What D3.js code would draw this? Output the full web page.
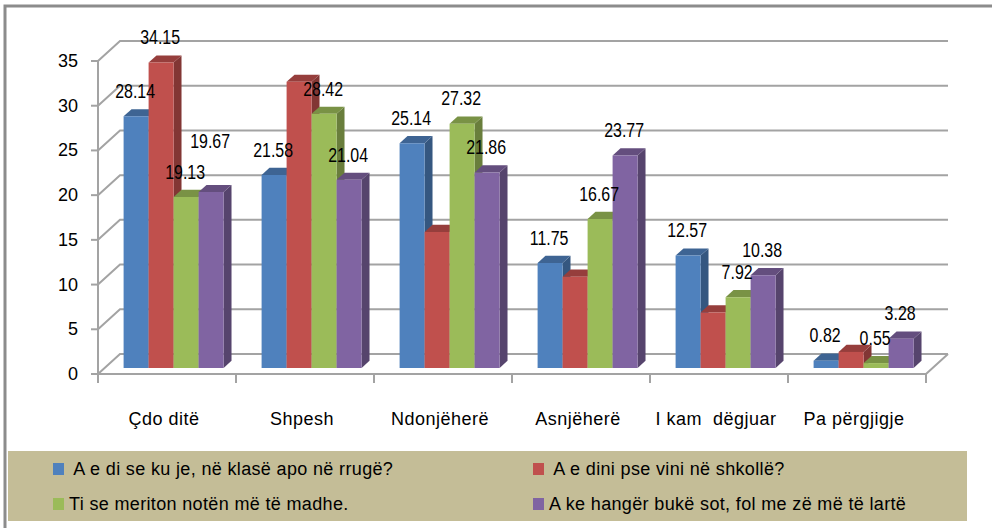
<!DOCTYPE html>
<html>
<head>
<meta charset="utf-8">
<script src="https://cdn.jsdelivr.net/npm/d3@7/dist/d3.min.js"></script>
<style>
body { margin: 0; background: #fff; }
text { font-family: "Liberation Sans", Arial, sans-serif; white-space: pre; }
</style>
</head>
<body>
<script>
var categories = ["Çdo ditë", "Shpesh", "Ndonjëherë", "Asnjëherë", "I kam  dëgjuar", "Pa përgjigje"];
var seriesNames = [
    " A e di se ku je, në klasë apo në rrugë?",
    " A e dini pse vini në shkollë?",
    "Ti se meriton notën më të madhe.",
    "A ke hangër bukë sot, fol me zë më të lartë"
];
var blueValues = [28.14, 21.58, 25.14, 11.75, 12.57, 0.82];
var redValues = [34.15, 32.0, 15.2, 10.2, 6.2, 1.8];
var greenValues = [19.13, 28.42, 27.32, 16.67, 7.92, 0.55];
var purpleValues = [19.67, 21.04, 21.86, 23.77, 10.38, 3.28];
// only these red values carry a label in the original
var redLabelled = [true, false, false, false, false, false];
var yTicks = [0, 5, 10, 15, 20, 25, 30, 35];

var colors = ["#4f81bd", "#c0504d", "#9bbb59", "#8064a2"];
var allValues = [blueValues, redValues, greenValues, purpleValues];

var width = 992, height = 528;
var DX = 22, DY = 20;          // depth offset of the back wall
var zFront = 0.3, zBack = 0.66; // depth of the bars

var svg = d3.select("body").append("svg")
    .attr("width", width)
    .attr("height", height);

var x0 = d3.scaleBand().domain(categories).range([98, 926]);
var x1 = d3.scaleBand().domain(d3.range(4)).range([0, x0.bandwidth()]).paddingOuter(0.76);
var y = d3.scaleLinear().domain([0, 35]).range([374, 61]);

function proj(x, v, z) {
    return [x + z * DX, y(v) - z * DY];
}

// outer frame
svg.append("path")
    .attr("d", "M5," + height + " L5,6 L" + width + ",6")
    .attr("fill", "none")
    .attr("stroke", "#8c8c8c")
    .attr("stroke-width", 3);

// grid on the back wall, with diagonals on the side wall
var grid = svg.append("g").attr("stroke", "#a3a3a3").attr("stroke-width", 2).attr("fill", "none");
grid.selectAll(".gl")
    .data(yTicks)
    .enter()
    .append("path")
    .attr("d", function (d) {
        var a = proj(98, d, 0), b = proj(98, d, 1), c = proj(926, d, 1);
        return "M" + a + "L" + b + "L" + c;
    });

// floor edges
grid.append("path")
    .attr("d", "M" + proj(98, 0, 0) + "L" + proj(926, 0, 0) + "L" + proj(926, 0, 1));
grid.append("line")
    .attr("x1", 98).attr("x2", 98)
    .attr("y1", y(35)).attr("y2", y(0));

// y ticks
grid.selectAll(".yt")
    .data(yTicks)
    .enter()
    .append("line")
    .attr("x1", 91).attr("x2", 98)
    .attr("y1", function (d) { return y(d); })
    .attr("y2", function (d) { return y(d); });

// category ticks
var catEdges = categories.map(function (c) { return x0(c); }).concat([926]);
grid.selectAll(".xt")
    .data(catEdges)
    .enter()
    .append("line")
    .attr("x1", function (d) { return d; })
    .attr("x2", function (d) { return d; })
    .attr("y1", y(0)).attr("y2", y(0) + 9);

svg.selectAll(".ylab")
    .data(yTicks)
    .enter()
    .append("text")
    .attr("x", 78)
    .attr("y", function (d) { return y(d) + 6; })
    .attr("text-anchor", "end")
    .attr("font-size", "18px")
    .attr("fill", "#000")
    .text(function (d) { return d; });

svg.selectAll(".xlab")
    .data(categories)
    .enter()
    .append("text")
    .attr("x", function (d) { return x0(d) + x0.bandwidth() / 2 - 3; })
    .attr("y", 425)
    .attr("text-anchor", "middle")
    .attr("font-size", "18px")
    .attr("letter-spacing", "0.5px")
    .attr("fill", "#000")
    .text(function (d) { return d; });

// bars, drawn left to right so each front face hides the neighbour's side
var bars = [];
categories.forEach(function (c, i) {
    allValues.forEach(function (vals, j) {
        bars.push({ cat: c, s: j, v: vals[i], i: i });
    });
});

var barG = svg.selectAll(".bar")
    .data(bars)
    .enter()
    .append("g");

function poly(pts) { return "M" + pts.join("L") + "Z"; }

barG.append("path")
    .attr("d", function (d) {
        var xa = x0(d.cat) + x1(d.s), xb = xa + x1.bandwidth();
        return poly([proj(xb, 0, zFront), proj(xb, d.v, zFront), proj(xb, d.v, zBack), proj(xb, 0, zBack)]);
    })
    .attr("fill", function (d) { return d3.color(colors[d.s]).darker(1.1); });

barG.append("path")
    .attr("d", function (d) {
        var xa = x0(d.cat) + x1(d.s), xb = xa + x1.bandwidth();
        return poly([proj(xa, d.v, zFront), proj(xb, d.v, zFront), proj(xb, d.v, zBack), proj(xa, d.v, zBack)]);
    })
    .attr("fill", function (d) { return d3.color(colors[d.s]).darker(0.7); });

barG.append("path")
    .attr("d", function (d) {
        var xa = x0(d.cat) + x1(d.s), xb = xa + x1.bandwidth();
        return poly([proj(xa, 0, zFront), proj(xb, 0, zFront), proj(xb, d.v, zFront), proj(xa, d.v, zFront)]);
    })
    .attr("fill", function (d) { return colors[d.s]; });

// value labels, squeezed horizontally like the narrow font of the original
var labelNudge = { "0-3": -26 };
svg.selectAll(".vlab")
    .data(bars.filter(function (d) { return d.s != 1 || redLabelled[d.i]; }))
    .enter()
    .append("text")
    .attr("transform", function (d) {
        var lx = x0(d.cat) + x1(d.s) + x1.bandwidth() / 2 + zFront * DX - 1;
        var ly = y(d.v) - zBack * DY - 11 + (labelNudge[d.i + "-" + d.s] || 0);
        return "translate(" + lx + "," + ly + ") scale(0.76,1)";
    })
    .attr("text-anchor", "middle")
    .attr("font-size", "21px")
    .attr("fill", "#000")
    .text(function (d) { return d.v.toFixed(2); });

// legend
var legend = svg.append("g");
legend.append("rect")
    .attr("x", 8).attr("y", 451)
    .attr("width", 959).attr("height", 70)
    .attr("fill", "#c4bd97");

var legendPos = [[53, 475], [533, 475], [53, 510], [533, 510]];
var items = legend.selectAll(".li")
    .data(seriesNames)
    .enter()
    .append("g")
    .attr("transform", function (d, i) { return "translate(" + legendPos[i] + ")"; });

items.append("rect")
    .attr("x", 0).attr("y", -12)
    .attr("width", 11).attr("height", 12)
    .attr("fill", function (d, i) { return colors[i]; });

items.append("text")
    .attr("x", 16)
    .attr("y", 0)
    .attr("font-size", "18px")
    .attr("letter-spacing", "0.35px")
    .attr("fill", "#000")
    .text(function (d) { return d; });
</script>
</body>
</html>
